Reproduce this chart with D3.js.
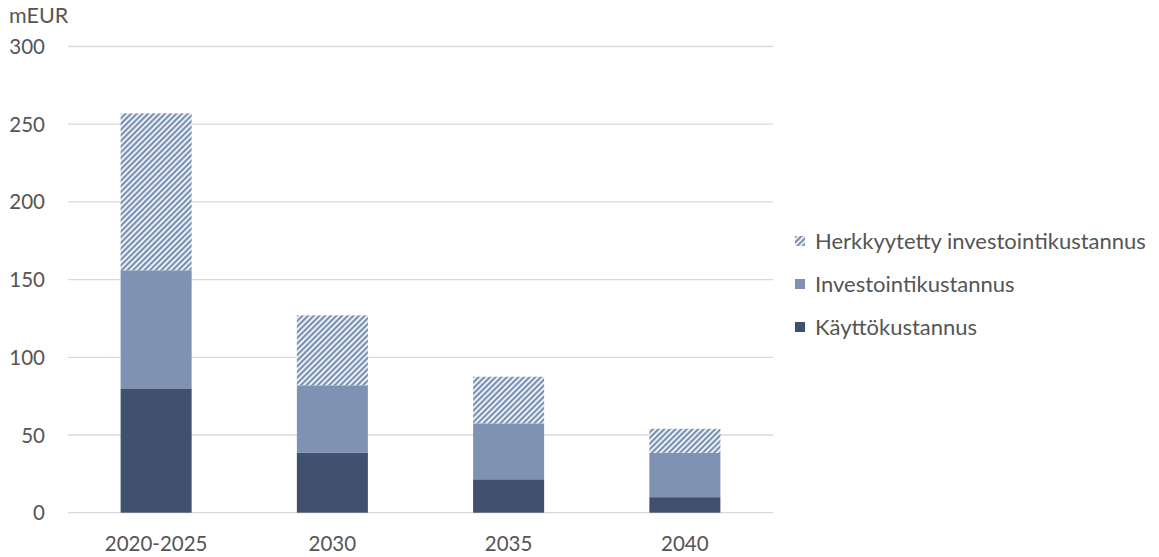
<!DOCTYPE html>
<html>
<head>
<meta charset="utf-8">
<script src="https://cdn.jsdelivr.net/npm/d3@7"></script>
<style>
  html, body { margin: 0; padding: 0; background: #fff; }
  svg text { font-family: Lato, "Open Sans", sans-serif; fill: #555555; }
</style>
</head>
<body>
<svg id="chart" width="1159" height="557"></svg>
<script>
// Categories (time periods)
const categories = ["2020-2025", "2030", "2035", "2040"];

// Stacked segments, mEUR
const kayttokustannus = [80, 38.5, 21.5, 10];
const investointikustannus = [76, 43.5, 36, 28.5];
const herkkyytetty = [101, 45, 30, 15.5];

// Y axis ticks
const yTicks = [0, 50, 100, 150, 200, 250, 300];

const seriesNames = ["Käyttökustannus", "Investointikustannus", "Herkkyytetty investointikustannus"];
const seriesKeys = ["kaytto", "invest", "herkky"];

const table = categories.map((c, i) => ({
  cat: c,
  kaytto: kayttokustannus[i],
  invest: investointikustannus[i],
  herkky: herkkyytetty[i]
}));

const svg = d3.select("#chart");

// Diagonal hatch fill for the sensitivity segment
const defs = svg.append("defs");
const pat = defs.append("pattern")
  .attr("id", "hatch")
  .attr("patternUnits", "userSpaceOnUse")
  .attr("width", 4).attr("height", 4)
  .attr("patternTransform", "rotate(45)");
pat.append("rect").attr("width", 4).attr("height", 4).attr("fill", "#ffffff");
pat.append("rect").attr("x", 0).attr("width", 2.3).attr("height", 4).attr("fill", "#7a8fb4");

const fills = { kaytto: "#40506f", invest: "#7f92b4", herkky: "url(#hatch)" };

const x = d3.scaleBand()
  .domain(categories)
  .range([68, 773])
  .paddingInner(0.597)
  .paddingOuter(0.2985);

const y = d3.scaleLinear().domain([0, 300]).range([512.7, 46.5]);

// Gridlines
svg.append("g").selectAll("line")
  .data(yTicks)
  .join("line")
  .attr("x1", 68).attr("x2", 773)
  .attr("y1", d => y(d)).attr("y2", d => y(d))
  .attr("stroke", "#d9d9d9").attr("stroke-width", 1.3);

// Y tick labels
svg.append("g").selectAll("text")
  .data(yTicks)
  .join("text")
  .attr("x", 45).attr("y", d => y(d) + 7.5)
  .attr("text-anchor", "end")
  .attr("font-size", 20.5)
  .text(d => d);

svg.append("text").attr("x", 9).attr("y", 23).attr("font-size", 21.5).text("mEUR");

// Stacked bars
const stack = d3.stack().keys(seriesKeys)(table);
svg.append("g").selectAll("g")
  .data(stack)
  .join("g")
  .attr("fill", s => fills[s.key])
  .selectAll("rect")
  .data(s => s)
  .join("rect")
  .attr("x", d => x(d.data.cat))
  .attr("width", x.bandwidth())
  .attr("y", d => y(d[1]))
  .attr("height", d => y(d[0]) - y(d[1]));

// X labels
svg.append("g").selectAll("text")
  .data(categories)
  .join("text")
  .attr("x", d => x(d) + x.bandwidth() / 2)
  .attr("y", 551)
  .attr("text-anchor", "middle")
  .attr("font-size", 20.5)
  .text(d => d);

// Legend
const legendOrder = [2, 1, 0];
const lg = svg.append("g").selectAll("g")
  .data(legendOrder)
  .join("g")
  .attr("transform", (d, i) => `translate(795, ${241 + i * 43})`);
lg.append("rect")
  .attr("x", 0).attr("y", -5).attr("width", 10).attr("height", 10)
  .attr("fill", d => fills[seriesKeys[d]]);
lg.append("text")
  .attr("x", 20).attr("y", 7.5)
  .attr("font-size", 22)
  .text(d => seriesNames[d]);
</script>
</body>
</html>
